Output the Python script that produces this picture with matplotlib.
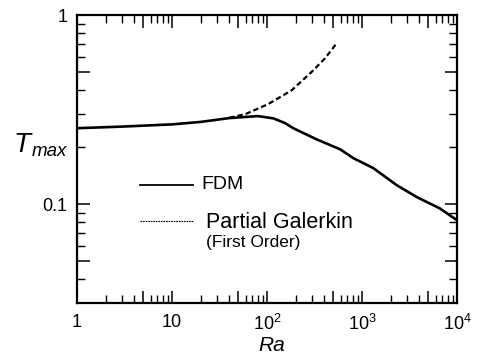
import matplotlib
matplotlib.use("Agg")
import matplotlib.pyplot as plt
from matplotlib.ticker import FixedLocator, FixedFormatter, NullFormatter

FAM = "Liberation Sans"
plt.rcParams["font.family"] = [FAM, "DejaVu Sans"]
plt.rcParams["mathtext.fontset"] = "custom"
plt.rcParams["mathtext.rm"] = FAM
plt.rcParams["mathtext.it"] = FAM + ":italic"

# ---- data ----
ra_fdm = [1, 3, 10, 20, 40, 80, 117, 155, 189, 333, 588, 811, 1316, 2317, 3766, 6620, 10000]
t_fdm = [0.252, 0.257, 0.264, 0.272, 0.285, 0.292, 0.284, 0.268, 0.252, 0.220, 0.195,
         0.175, 0.155, 0.126, 0.109, 0.0948, 0.0822]
ra_gal = [40, 60, 103, 182, 295, 408, 540]
t_gal = [0.286, 0.300, 0.338, 0.400, 0.500, 0.590, 0.708]

x_major = [1, 10, 100, 1000, 10000]
x_major_labels = ["1", "10", "$10^2$", "$10^3$", "$10^4$"]
y_major = [0.1, 1]
y_major_labels = ["0.1", "1"]

fig = plt.figure(figsize=(4.79, 3.55), dpi=100)
ax = fig.add_axes([77 / 479, 1 - 303 / 355, 380 / 479, 288 / 355])
ax.set_xscale("log")
ax.set_yscale("log")

ax.plot(ra_fdm, t_fdm, color="black", lw=1.9, solid_capstyle="butt", solid_joinstyle="round")
ax.plot(ra_gal, t_gal, color="black", lw=1.6, linestyle=(0, (2.4, 1.4)))

# ticks: decades + 5x as major (long), others minor
xm, xl = [], []
for v, lab in zip(x_major, x_major_labels):
    xm.append(v); xl.append(lab)
    if v < 1e4:
        xm.append(5 * v); xl.append("")
ax.xaxis.set_major_locator(FixedLocator(xm))
ax.xaxis.set_major_formatter(FixedFormatter(xl))
ax.xaxis.set_minor_locator(FixedLocator([m * v for v in x_major[:-1] for m in (2, 3, 4, 6, 7, 8, 9)]))
ax.xaxis.set_minor_formatter(NullFormatter())

ym, yl = [], []
for v, lab in zip(y_major, y_major_labels):
    ym.append(v / 2); yl.append("")
    ym.append(v); yl.append(lab)
ax.yaxis.set_major_locator(FixedLocator(ym))
ax.yaxis.set_major_formatter(FixedFormatter(yl))
ax.yaxis.set_minor_locator(FixedLocator([0.04, 0.06, 0.07, 0.08, 0.09,
                                         0.2, 0.3, 0.4, 0.6, 0.7, 0.8, 0.9]))
ax.yaxis.set_minor_formatter(NullFormatter())

ax.set_xlim(1, 1e4)
ax.set_ylim(0.03, 1)

ax.tick_params(which="both", direction="in", top=True, right=True, colors="black")
ax.tick_params(which="major", length=9, width=1.1)
ax.tick_params(which="minor", length=5.5, width=1.0)
ax.tick_params(axis="x", which="major", pad=8, labelsize=13)
ax.tick_params(axis="y", which="major", pad=7, labelsize=13)
for s in ax.spines.values():
    s.set_linewidth(1.6)

# legend keys (axes fraction)
ax.plot([0.166, 0.305], [0.41, 0.41], transform=ax.transAxes, color="black", lw=1.3)
ax.plot([0.166, 0.305], [0.283, 0.283], transform=ax.transAxes, color="black", lw=0.8,
        linestyle=(0, (1.5, 0.8)))
ax.text(0.328, 0.41, "FDM", transform=ax.transAxes, fontsize=14, va="center", ha="left")
ax.text(0.340, 0.281, "Partial Galerkin", transform=ax.transAxes, fontsize=15.5, va="center", ha="left")
ax.text(0.340, 0.210, "(First Order)", transform=ax.transAxes, fontsize=12.5, va="center", ha="left")

# axis labels
fig.text(13 / 479, 1 - 152 / 355, "T", fontsize=20, style="italic", ha="left", va="baseline")
fig.text(32 / 479, 1 - 156 / 355, "max", fontsize=13.5, style="italic", ha="left", va="baseline")
fig.text(272 / 479, 1 - 351 / 355, "Ra", fontsize=15, style="italic", ha="center", va="baseline")

fig.savefig("out.png", dpi=100)
